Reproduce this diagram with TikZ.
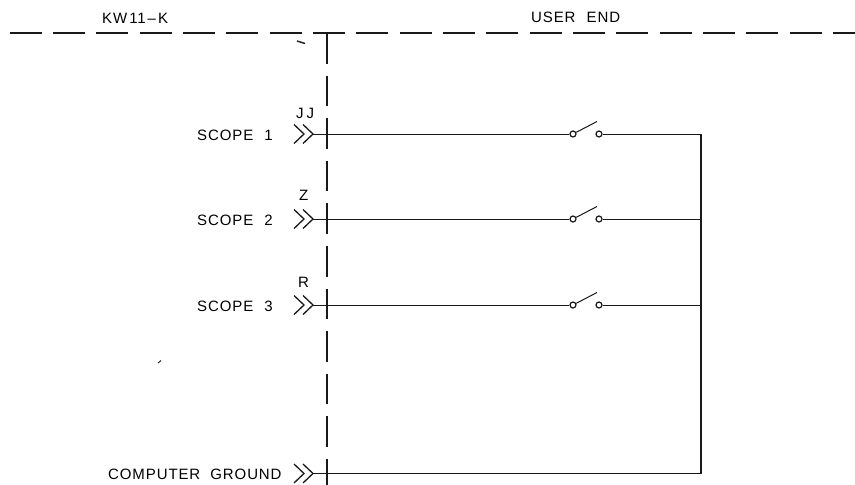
\documentclass[tikz,border=0pt]{standalone}
\usepackage{fontspec}
\setmainfont[LetterSpace=6]{Liberation Sans}
\begin{document}
\begin{tikzpicture}[x=1pt,y=-1pt,
  wire/.style={line width=1pt,draw=black!90},
  boundary/.style={line width=1.1pt,draw=black!90,dash pattern=on 32pt off 11.35pt},
  vboundary/.style={line width=1.05pt,draw=black!90,dash pattern=on 30.5pt off 12.1pt},
  chev/.style={line width=1.3pt,draw=black!90},
  label/.style={inner sep=0pt,anchor=west,font=\fontsize{15}{15}\selectfont,text=black},
  contact/.style={circle,draw=black!90,line width=1.2pt,fill=white,minimum size=6pt,inner sep=0pt},
  speck/.style={line width=1.5pt,draw=black!85}]
\useasboundingbox (0,0) rectangle (855,485);
\fill[white] (0,0) rectangle (855,485);
% boundaries
\coordinate (hl) at (9.5,33); \coordinate (hr) at (855,33);
\draw[boundary] (hl) -- (hr);
\coordinate (vt) at (327,33); \coordinate (vb) at (327,485);
\draw[vboundary] (vt) -- (vb);
% headings
\node[label] (kw) at (102,18) {KW\hspace{2pt}11\hspace{2pt}–\hspace{2pt}K};
\node[label] (ue) at (531,17) {USER\hspace{6pt} END};
% labels
\node[label] (s1) at (197,135) {SCOPE\hspace{6pt} 1};
\node[label] (s2) at (197,220) {SCOPE\hspace{6pt} 2};
\node[label] (s3) at (197,306) {SCOPE\hspace{6pt} 3};
\node[label] (cg) at (108,474) {COMPUTER\hspace{5pt} GROUND};
\node[label] (jj) at (296,113) {J\hspace{3pt}J};
\node[label] (z) at (299,195) {Z};
\node[label] (r) at (298,282) {R};
% connectors and switches
\foreach \n/\y in {a/134,b/219,c/305,d/473.5}{
  \coordinate (tip\n) at (313,\y);
  \draw[chev] (303,\y-9.5) -- (tip\n) -- (303,\y+9.5);
  \draw[chev] (294,\y-9.5) -- (304,\y) -- (294,\y+9.5);
}
\foreach \n/\y in {a/134,b/219,c/305}{
  \node[contact] (l\n) at (573,\y) {};
  \node[contact] (r\n) at (599,\y) {};
  \coordinate (lev\n) at (597,\y-12.5);
  \coordinate (e\n) at (701,\y);
  \draw[wire] (tip\n) -- (l\n);
  \draw[wire] (r\n) -- (e\n);
  \draw[wire] (l\n) -- (lev\n);
}
\coordinate (ed) at (701,473.5);
\draw[wire] (tipd) -- (ed);
\draw[wire,line width=1.1pt] (ea) -- (ed);
% specks
\coordinate (sp1) at (297,41); \coordinate (sp2) at (305,43.5);
\draw[speck] (sp1) -- (sp2);
\coordinate (sp3) at (158,363); \coordinate (sp4) at (161,360.5);
\draw[speck,line width=1pt] (sp3) -- (sp4);
\end{tikzpicture}
\end{document}
